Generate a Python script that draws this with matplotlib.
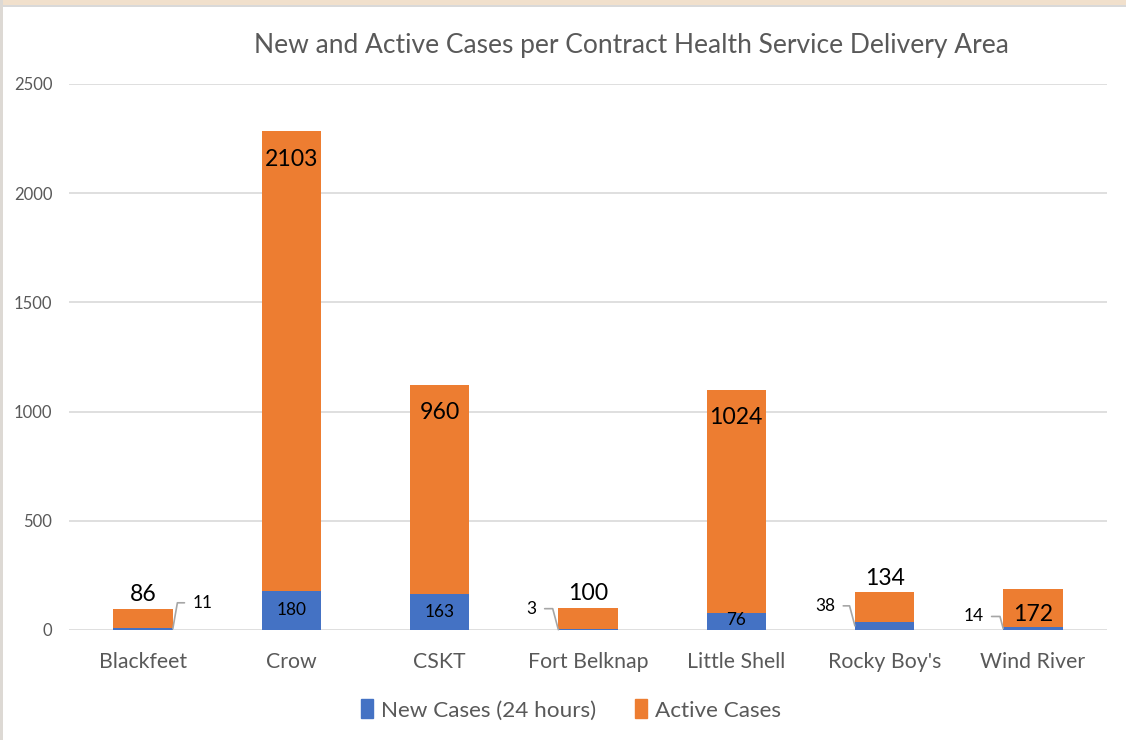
import matplotlib
matplotlib.use("Agg")
import matplotlib.pyplot as plt
from matplotlib.patches import Rectangle, Patch

plt.rcParams['font.family'] = ['Lato', 'DejaVu Sans']

# data
areas = ['Blackfeet', 'Crow', 'CSKT', 'Fort Belknap', 'Little Shell', "Rocky Boy's", 'Wind River']
new_cases = [11, 180, 163, 3, 76, 38, 14]
active_cases = [86, 2103, 960, 100, 1024, 134, 172]

blue = '#4472C4'
orange = '#ED7D31'
grey_txt = '#595959'

W, H = 1126, 740
fig = plt.figure(figsize=(W / 100, H / 100), dpi=100)

# frame around the chart like the screenshot
fig.patches.append(Rectangle((0, 1 - 5 / H), 1, 5 / H, transform=fig.transFigure,
                             facecolor='#F1E0CC', edgecolor='none'))
fig.patches.append(Rectangle((0, 1 - 7 / H), 1, 2 / H, transform=fig.transFigure,
                             facecolor='#D9D9D9', edgecolor='none'))
fig.patches.append(Rectangle((0, 0), 3 / W, 1, transform=fig.transFigure,
                             facecolor='#DDD9D4', edgecolor='none'))

ax = fig.add_axes([69 / W, 1 - 630 / H, (1107 - 69) / W, (630 - 84) / H])
x = list(range(len(areas)))
bw = 0.4
ax.bar(x, new_cases, bw, color=blue, zorder=3, label='New Cases (24 hours)')
ax.bar(x, active_cases, bw, bottom=new_cases, color=orange, zorder=3, label='Active Cases')

ax.set_xlim(-0.5, len(areas) - 0.5)
ax.set_ylim(0, 2500)
ax.set_yticks(range(0, 2501, 500))
ax.grid(axis='y', color='#D9D9D9', linewidth=1.2, zorder=0)
for s in ax.spines.values():
    s.set_visible(False)
ax.tick_params(length=0, colors=grey_txt)
ax.tick_params(axis='y', labelsize=12, pad=12)
ax.tick_params(axis='x', labelsize=15.3, pad=16)
ax.set_xticks(x)
ax.set_xticklabels(areas)

fig.text(631 / W, 1 - 45 / H, 'New and Active Cases per Contract Health Service Delivery Area',
         ha='center', va='center', fontsize=19, color=grey_txt)

# active case labels: inside top for tall bars, above for short ones
for i, (n, a) in enumerate(zip(new_cases, active_cases)):
    top = n + a
    if a > 500:
        ax.annotate(str(a), (i, top), xytext=(0, -28), textcoords='offset pixels',
                    ha='center', va='center', fontsize=16.6, zorder=5)
    elif areas[i] == 'Wind River':
        ax.annotate(str(a), (i, top / 2), xytext=(0, -5), textcoords='offset pixels',
                    ha='center', va='center', fontsize=16.6, zorder=5)
    else:
        ax.annotate(str(a), (i, top), xytext=(0, 14), textcoords='offset pixels',
                    ha='center', va='center', fontsize=16.6, zorder=5)

# new case labels: centred for tall segments, callouts for small ones
callouts = {'Blackfeet': (1, 30, 26), 'Fort Belknap': (-1, -27, 21),
            "Rocky Boy's": (-1, -30, 20), 'Wind River': (-1, -30, 12)}
for i, n in enumerate(new_cases):
    if areas[i] in callouts:
        side, dx, dy = callouts[areas[i]]
        ax.annotate(str(n), (i + side * bw / 2, n / 2), xytext=(dx, dy),
                    textcoords='offset pixels', ha='center', va='center', fontsize=12.4,
                    zorder=5,
                    arrowprops=dict(arrowstyle='-', color='#A6A6A6', lw=1.2,
                                    shrinkA=4, shrinkB=0,
                                    connectionstyle='angle,angleA=0,angleB=%d,rad=0'
                                    % (80 if side > 0 else 105),
                                    relpos=(0, 0.5) if side > 0 else (1, 0.5)))
    else:
        ax.annotate(str(n), (i, n / 2), xytext=(0, max(0, 10 - n * 0.2184 / 2)),
                    textcoords='offset pixels', ha='center', va='center',
                    fontsize=12.4, zorder=5)

handles = [Patch(color=blue, label='New Cases (24 hours)'), Patch(color=orange, label='Active Cases')]
fig.legend(handles=handles, loc='center', bbox_to_anchor=(571 / W, 1 - 710 / H), ncol=2,
           frameon=False, fontsize=16.2, labelcolor=grey_txt, handlelength=0.55,
           handleheight=0.9, handletextpad=0.35, columnspacing=1.7)

fig.savefig('out.png', dpi=100)
